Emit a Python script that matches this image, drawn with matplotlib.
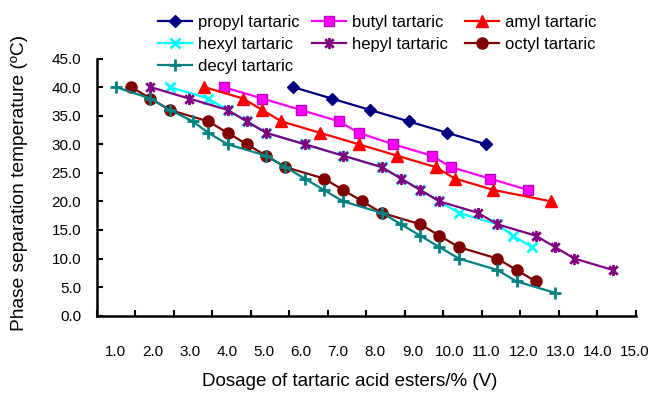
import matplotlib
matplotlib.use("Agg")
import matplotlib.pyplot as plt
from matplotlib.path import Path

plt.rcParams['font.family'] = ['Liberation Sans', 'DejaVu Sans']

# ---------------- data ----------------
propyl_x = [6.1, 7.1, 8.1, 9.1, 10.1, 11.1]
propyl_y = [40, 38, 36, 34, 32, 30]

butyl_x = [4.3, 5.3, 6.3, 7.3, 7.8, 8.7, 9.7, 10.2, 11.2, 12.2]
butyl_y = [40, 38, 36, 34, 32, 30, 28, 26, 24, 22]

amyl_x = [3.8, 4.8, 5.3, 5.8, 6.8, 7.8, 8.8, 9.8, 10.3, 11.3, 12.8]
amyl_y = [40, 38, 36, 34, 32, 30, 28, 26, 24, 22, 20]

hexyl_x = [2.9, 3.9, 4.4, 4.9, 5.4, 6.4, 7.4, 8.4, 8.9, 9.4, 9.9, 10.4, 11.4, 11.8, 12.3]
hexyl_y = [40, 38, 36, 34, 32, 30, 28, 26, 24, 22, 20, 18, 16, 14, 12]

hepyl_x = [2.4, 3.4, 4.4, 4.9, 5.4, 6.4, 7.4, 8.4, 8.9, 9.4, 9.9, 10.9, 11.4, 12.4, 12.9, 13.4, 14.4]
hepyl_y = [40, 38, 36, 34, 32, 30, 28, 26, 24, 22, 20, 18, 16, 14, 12, 10, 8]

octyl_x = [1.9, 2.4, 2.9, 3.9, 4.4, 4.9, 5.4, 5.9, 6.9, 7.4, 7.9, 8.4, 9.4, 9.9, 10.4, 11.4, 11.9, 12.4]
octyl_y = [40, 38, 36, 34, 32, 30, 28, 26, 24, 22, 20, 18, 16, 14, 12, 10, 8, 6]

decyl_x = [1.5, 2.4, 2.9, 3.5, 3.9, 4.4, 5.4, 5.9, 6.4, 6.9, 7.4, 8.4, 8.9, 9.4, 9.9, 10.4, 11.4, 11.9, 12.9]
decyl_y = [40, 38, 36, 34, 32, 30, 28, 26, 24, 22, 20, 18, 16, 14, 12, 10, 8, 6, 4]

x_ticks = list(range(1, 16))
x_tick_labels = ['1.0', '2.0', '3.0', '4.0', '5.0', '6.0', '7.0', '8.0', '9.0',
                 '10.0', '11.0', '12.0', '13.0', '14.0', '15.0']
y_ticks = [0, 5, 10, 15, 20, 25, 30, 35, 40, 45]
y_tick_labels = ['0.0', '5.0', '10.0', '15.0', '20.0', '25.0', '30.0', '35.0', '40.0', '45.0']

# ---------------- figure ----------------
W, H = 658, 394
fig = plt.figure(figsize=(W / 100, H / 100), dpi=100)
L, R, B, T = 96.5, 636, 315.7, 58.5
ax = fig.add_axes([L / W, (H - B) / H, (R - L) / W, (B - T) / H])

asterisk = Path([(-1, -1), (1, 1), (-1, 1), (1, -1), (0, -1.3), (0, 1.3)],
                [Path.MOVETO, Path.LINETO, Path.MOVETO, Path.LINETO, Path.MOVETO, Path.LINETO])

lw = 1.6
series = [
    (propyl_x, propyl_y, 'propyl tartaric', '#000080', dict(marker='D', markersize=6)),
    (butyl_x, butyl_y, 'butyl tartaric', '#FF00FF', dict(marker='s', markersize=7, markeredgecolor='#C000C0', markeredgewidth=1.0)),
    (amyl_x, amyl_y, 'amyl tartaric', '#FF0000', dict(marker='^', markersize=9)),
    (hexyl_x, hexyl_y, 'hexyl tartaric', '#00FFFF', dict(marker='x', markersize=7, markeredgewidth=2)),
    (hepyl_x, hepyl_y, 'hepyl tartaric', '#800080', dict(marker=asterisk, markersize=8, markeredgewidth=2)),
    (octyl_x, octyl_y, 'octyl tartaric', '#800000', dict(marker='o', markersize=8)),
    (decyl_x, decyl_y, 'decyl tartaric', '#008080', dict(marker='+', markersize=8, markeredgewidth=2)),
]

handles = {}
for xs, ys, lab, col, mk in series:
    kw = dict(color=col, linewidth=lw, markerfacecolor=col)
    kw.update(mk)
    if 'markeredgecolor' not in kw:
        kw['markeredgecolor'] = col
    h, = ax.plot(xs, ys, label=lab, clip_on=False, **kw)
    handles[lab] = h

ax.set_xlim(1, 15)
ax.set_ylim(0, 45)

# tick marks at the integer positions
ax.set_xticks(x_ticks)
ax.set_xticklabels([])
ax.set_yticks(y_ticks)
ax.set_yticklabels(y_tick_labels, fontsize=11)
ax.tick_params(axis='x', which='major', direction='in', length=4, width=1.5)
ax.tick_params(axis='y', which='major', direction='in', length=4, width=1.5, pad=11)

# x tick labels (rendered slightly compressed as in the original)
lab_pos = [1.5 + 0.962 * (v - 1) for v in x_ticks]
ax.set_xticks(lab_pos, minor=True)
ax.set_xticklabels(x_tick_labels, minor=True, fontsize=11)
ax.tick_params(axis='x', which='minor', length=0, pad=21)

for s in ['top', 'right']:
    ax.spines[s].set_visible(False)
for s in ['left', 'bottom']:
    ax.spines[s].set_linewidth(1.8)

ax.set_xlabel('Dosage of tartaric acid esters/% (V)', fontsize=13.5)
ax.xaxis.set_label_coords(0.47, -0.222)
ax.set_ylabel('Phase separation temperature (ºC)', fontsize=13.8)
ax.yaxis.set_label_coords(-0.127, 0.518)

# legend: three columns placed separately
cols = [
    (['propyl tartaric', 'hexyl tartaric', 'decyl tartaric'], 158),
    (['butyl tartaric', 'hepyl tartaric'], 311.5),
    (['amyl tartaric', 'octyl tartaric'], 465),
]
for labs, x0 in cols:
    lg = fig.legend([handles[l] for l in labs], labs, loc='upper left',
                    bbox_to_anchor=(x0 / W, (H - 14.5) / H), frameon=False,
                    fontsize=12, borderpad=0, borderaxespad=0, handlelength=2.05,
                    handletextpad=0.35, labelspacing=0.44, numpoints=1)

fig.savefig('out.png', dpi=100)
